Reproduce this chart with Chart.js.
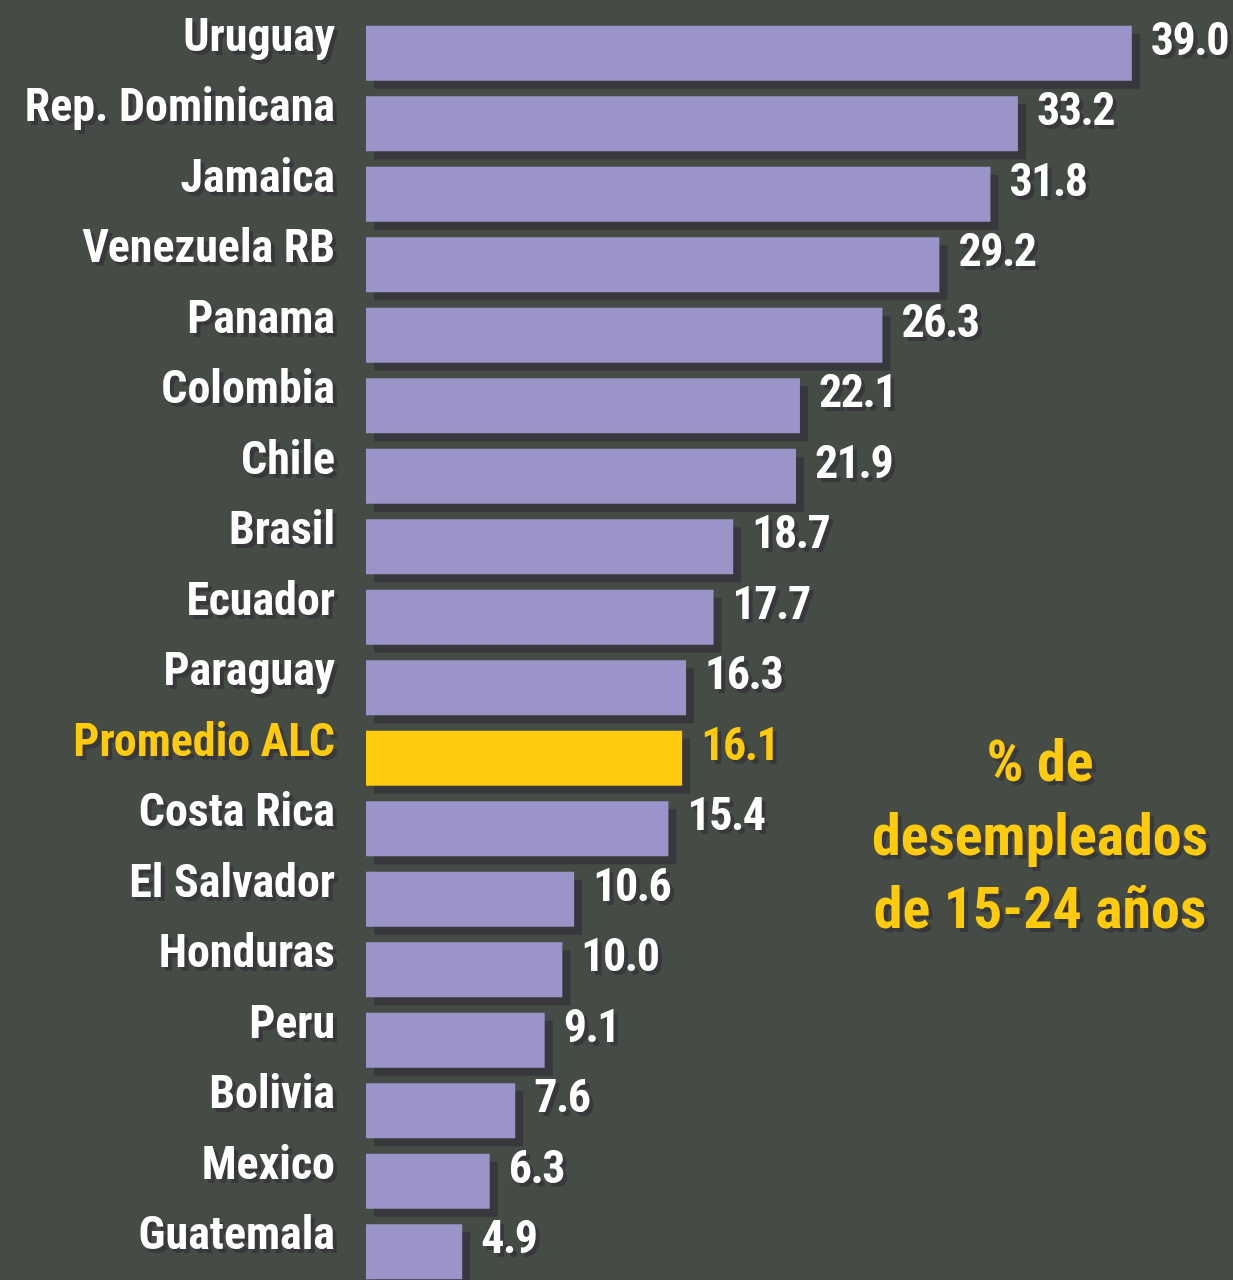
<!DOCTYPE html>
<html>
<head>
<meta charset="utf-8">
<script src="https://cdn.jsdelivr.net/npm/chart.js@4.4.1/dist/chart.umd.min.js"></script>
<style>
  html, body { margin: 0; padding: 0; background: #454c46; overflow: hidden; }
  #wrap { position: relative; width: 1233px; height: 1300px; }
</style>
</head>
<body>
<div id="wrap"><canvas id="chart" width="1233" height="1300"></canvas></div>
<script>
// ── Data ──────────────────────────────────────────────────────────
const countries = ['Uruguay', 'Rep. Dominicana', 'Jamaica', 'Venezuela RB', 'Panama',
  'Colombia', 'Chile', 'Brasil', 'Ecuador', 'Paraguay', 'Promedio ALC', 'Costa Rica',
  'El Salvador', 'Honduras', 'Peru', 'Bolivia', 'Mexico', 'Guatemala'];
const youthUnemp = [39.0, 33.2, 31.8, 29.2, 26.3, 22.1, 21.9, 18.7, 17.7, 16.3, 16.1,
  15.4, 10.6, 10.0, 9.1, 7.6, 6.3, 4.9];
const avgIdx = countries.indexOf('Promedio ALC');
const noteLines = ['% de', 'desempleados', 'de 15-24 años'];

const LAVENDER = '#9a94c8';
const YELLOW   = '#ffcb0b';
const SHADOW   = '#38373c';
const FONT     = "'Liberation Sans Narrow', 'Arial Narrow', 'Roboto Condensed', sans-serif";

// ── Shadows for text and bars ─────────────────────────────────────
const shadowPlugin = {
  id: 'shadows',
  beforeDraw(chart) {
    const ctx = chart.ctx;
    ctx.save();
    ctx.shadowColor = SHADOW;
    ctx.shadowBlur = 0;
    ctx.shadowOffsetX = 4;
    ctx.shadowOffsetY = 4;
  },
  beforeDatasetsDraw(chart) {
    chart.ctx.shadowOffsetX = 8;
    chart.ctx.shadowOffsetY = 8;
  },
  afterDatasetsDraw(chart) {
    chart.ctx.shadowOffsetX = 4;
    chart.ctx.shadowOffsetY = 4;
  },
  afterDraw(chart) {
    chart.ctx.restore();
  }
};

// ── Value labels + side note ──────────────────────────────────────
const labelPlugin = {
  id: 'valueLabels',
  afterDatasetsDraw(chart) {
    const ctx = chart.ctx;
    const meta = chart.getDatasetMeta(0);
    ctx.save();
    ctx.shadowColor = SHADOW;
    ctx.shadowBlur = 0;
    ctx.shadowOffsetX = 4;
    ctx.shadowOffsetY = 4;
    ctx.font = 'bold 46px ' + FONT;
    ctx.letterSpacing = '-1.5px';
    ctx.textAlign = 'left';
    ctx.textBaseline = 'middle';
    meta.data.forEach((bar, i) => {
      ctx.fillStyle = i === avgIdx ? YELLOW : '#ffffff';
      ctx.fillText(youthUnemp[i].toFixed(1), bar.x + 19, bar.y - 10);
    });
    // side note
    ctx.letterSpacing = '0px';
    ctx.font = 'bold 58px ' + FONT;
    ctx.textAlign = 'center';
    ctx.textBaseline = 'alphabetic';
    ctx.fillStyle = YELLOW;
    noteLines.forEach((t, k) => ctx.fillText(t, 1040, 781 + k * 73.5));
    ctx.restore();
  }
};

new Chart(document.getElementById('chart'), {
  type: 'bar',
  data: {
    labels: countries,
    datasets: [{
      data: youthUnemp,
      backgroundColor: countries.map((c, i) => i === avgIdx ? YELLOW : LAVENDER),
      borderWidth: 0,
      barPercentage: 0.78,
      categoryPercentage: 1.0,
    }]
  },
  options: {
    indexAxis: 'y',
    responsive: false,
    animation: false,
    layout: { padding: { top: 18, right: 3, bottom: 13, left: 0 } },
    plugins: {
      legend: { display: false },
      tooltip: { enabled: false }
    },
    scales: {
      x: {
        display: false,
        min: 0,
        max: 44,
      },
      y: {
        afterFit: s => { s.width = 366; s.paddingTop = 0; s.paddingBottom = 0; },
        grid: { display: false, drawTicks: false },
        border: { display: false },
        ticks: {
          padding: 31,
          labelOffset: -14,
          color: c => c.index === avgIdx ? YELLOW : '#ffffff',
          font: { family: FONT, size: 46, weight: 'bold' },
        }
      }
    }
  },
  plugins: [shadowPlugin, labelPlugin]
});
</script>
</body>
</html>
